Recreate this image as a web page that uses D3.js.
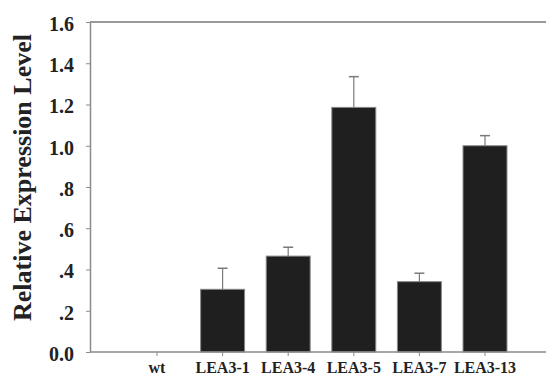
<!DOCTYPE html>
<html lang="en">
  <head>
    <meta charset="utf-8" />
    <title>Relative Expression Level</title>
    <style>
      body {
        margin: 0;
        background: #fff;
      }
      svg text {
        font-family: 'Liberation Serif', 'Times New Roman', serif;
        font-weight: bold;
        fill: #222;
      }
    </style>
  </head>
  <body>
    <div id="chart"></div>

    <script src="https://cdnjs.cloudflare.com/ajax/libs/d3/7.4.4/d3.min.js"></script>
    <script type="text/javascript">
      // Data
      const categories = ['wt', 'LEA3-1', 'LEA3-4', 'LEA3-5', 'LEA3-7', 'LEA3-13']
      const values = [0, 0.304, 0.465, 1.186, 0.341, 1.0]
      const errors = [0, 0.102, 0.043, 0.149, 0.041, 0.049]
      const yTicks = [0, 0.2, 0.4, 0.6, 0.8, 1.0, 1.2, 1.4, 1.6]
      const yTickLabels = ['0.0', '.2', '.4', '.6', '.8', '1.0', '1.2', '1.4', '1.6']

      const width = 546,
        height = 377

      const svg = d3.select('#chart').append('svg').attr('width', width).attr('height', height)

      // Scales
      var x = d3.scaleBand().domain(categories).range([124.2, 517.8]).paddingInner(0.33).paddingOuter(0.165)
      var y = d3.scaleLinear().domain([0, 1.6]).range([352, 22])

      const axisColor = '#8a8a8a'
      const errColor = '#7a7a7a'

      // Top frame line (runs off the right edge like the original)
      svg
        .append('line')
        .attr('x1', 90)
        .attr('x2', width + 10)
        .attr('y1', y(1.6))
        .attr('y2', y(1.6))
        .attr('stroke', '#999')
        .attr('stroke-width', 2)

      // Bars
      svg
        .selectAll('rect.bar')
        .data(values)
        .enter()
        .append('rect')
        .attr('class', 'bar')
        .attr('x', (d, i) => x(categories[i]))
        .attr('y', (d) => y(d))
        .attr('width', x.bandwidth())
        .attr('height', (d) => y(0) - y(d))
        .attr('fill', '#1f1f1f')
        .attr('stroke', '#888')
        .attr('stroke-width', 1)

      // Error bars (upper only)
      const idx = values.map((d, i) => i).filter((i) => errors[i] > 0)
      idx.forEach(function (i) {
        var cx = x(categories[i]) + x.bandwidth() / 2
        svg
          .append('line')
          .attr('x1', cx)
          .attr('x2', cx)
          .attr('y1', y(values[i]))
          .attr('y2', y(values[i] + errors[i]))
          .attr('stroke', errColor)
          .attr('stroke-width', 1.2)
        svg
          .append('line')
          .attr('x1', cx - 5)
          .attr('x2', cx + 5)
          .attr('y1', y(values[i] + errors[i]))
          .attr('y2', y(values[i] + errors[i]))
          .attr('stroke', errColor)
          .attr('stroke-width', 1.5)
      })

      // X axis baseline (extends past right edge)
      svg
        .append('line')
        .attr('x1', 90)
        .attr('x2', width + 10)
        .attr('y1', y(0))
        .attr('y2', y(0))
        .attr('stroke', axisColor)
        .attr('stroke-width', 1.5)

      // X axis
      var xAxis = svg
        .append('g')
        .attr('transform', 'translate(0,' + y(0) + ')')
        .call(d3.axisBottom(x).tickSize(4).tickPadding(6).tickSizeOuter(0))
      xAxis.select('.domain').remove()
      xAxis.selectAll('line').attr('stroke', axisColor)
      xAxis.selectAll('text').style('font-size', '16px')

      // Y axis
      var yAxis = svg
        .append('g')
        .attr('transform', 'translate(90,0)')
        .call(
          d3
            .axisLeft(y)
            .tickValues(yTicks)
            .tickFormat((d, i) => yTickLabels[i])
            .tickSize(4)
            .tickPadding(12)
            .tickSizeOuter(0)
        )
      yAxis.select('.domain').attr('stroke', axisColor).attr('stroke-width', 1.5)
      yAxis.selectAll('line').attr('stroke', axisColor)
      yAxis.selectAll('text').style('font-size', '20px').attr('dy', '0.42em')

      // Y axis title
      svg
        .append('text')
        .attr('transform', 'translate(31,177.5) rotate(-90)')
        .attr('text-anchor', 'middle')
        .style('font-size', '26px')
        .text('Relative Expression Level')
    </script>
  </body>
</html>
